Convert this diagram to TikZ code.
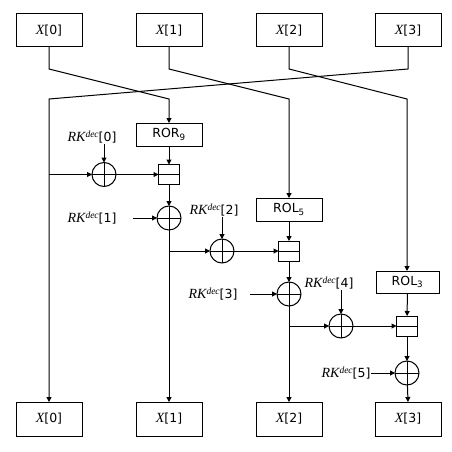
\documentclass[tikz,border=0pt]{standalone}
\usepackage{fontspec}
\setmainfont{DejaVu Sans}
\newfontfamily\tnr{Liberation Serif}
\usetikzlibrary{arrows.meta}
\newcommand\vx{{\tnr\itshape\fontsize{14}{14}\selectfont X}}
\newcommand\rkd[1]{{\tnr\itshape\fontsize{14}{14}\selectfont RK}\raisebox{3.5pt}{\tnr\itshape\fontsize{9.5}{10}\selectfont dec}[#1]}
\begin{document}
\begin{tikzpicture}[x=1pt,y=-1pt,line width=1pt,
  every node/.style={font=\fontsize{12.5}{14}\selectfont},
  arr/.style={-{Triangle[length=5pt,width=5pt]}},
  xbox/.style={draw,minimum width=66pt,minimum height=33pt,inner sep=0pt,outer sep=0pt},
  rbox/.style={draw,minimum width=66pt,minimum height=23pt,inner sep=0pt,outer sep=0pt},
  xorn/.style={draw,circle,minimum size=24pt,inner sep=0pt,outer sep=0pt,
    path picture={\draw (path picture bounding box.north) -- (path picture bounding box.south)
      (path picture bounding box.west) -- (path picture bounding box.east);}},
  addn/.style={draw,minimum width=21pt,minimum height=20pt,inner sep=0pt,outer sep=0pt,
    path picture={\draw (path picture bounding box.west) -- (path picture bounding box.east);}},
  lbl/.style={inner sep=0pt}]
\useasboundingbox (0,0) rectangle (451,452);
% top boxes
\node[xbox] (x0t) at (49,30.5) {\vx[0]};
\node[xbox] (x1t) at (169,30.5) {\vx[1]};
\node[xbox] (x2t) at (289,30.5) {\vx[2]};
\node[xbox] (x3t) at (408,30.5) {\vx[3]};
% bottom boxes
\node[xbox,minimum height=34pt] (x0b) at (49,419) {\vx[0]};
\node[xbox,minimum height=34pt] (x1b) at (169,419) {\vx[1]};
\node[xbox,minimum height=34pt] (x2b) at (289,419) {\vx[2]};
\node[xbox,minimum height=34pt] (x3b) at (408,419) {\vx[3]};
% rotation boxes
\node[rbox] (ror) at (169,134.5) {ROR\textsubscript{9}};
\node[rbox] (rol5) at (289,209.5) {ROL\textsubscript{5}};
\node[rbox,minimum width=63pt,minimum height=22pt] (rol3) at (407.5,282) {ROL\textsubscript{3}};
% adders
\node[addn] (add1) at (169,174.5) {};
\node[addn] (add2) at (289,251) {};
\node[addn] (add3) at (407,326) {};
% xors
\node[xorn] (xor0) at (104,174.5) {};
\node[xorn] (xor1) at (169,218) {};
\node[xorn] (xor2) at (222,251) {};
\node[xorn] (xor3) at (289,294) {};
\node[xorn] (xor4) at (341,326) {};
\node[xorn] (xor5) at (407,373) {};
% labels
\node[lbl] (rk0) at (92,137) {\rkd{0}};
\node[lbl] (rk1) at (92,218) {\rkd{1}};
\node[lbl] (rk2) at (214,210) {\rkd{2}};
\node[lbl] (rk3) at (213,294) {\rkd{3}};
\node[lbl] (rk4) at (329,283) {\rkd{4}};
\node[lbl] (rk5) at (346,373) {\rkd{5}};
% crossing points
\coordinate (a0) at (49,69);  \coordinate (b0) at (169,99);
\coordinate (a1) at (169,69); \coordinate (b1) at (289,99);
\coordinate (a2) at (289,69); \coordinate (b2) at (407,99);
\coordinate (a3) at (408,69); \coordinate (b3) at (49,99);
\coordinate (br0) at (49,174.5);
\coordinate (br1) at (169,251);
\coordinate (br2) at (289,326);
\draw[arr] (x0t.south) -- (a0) -- (b0) -- (ror.north);
\draw[arr] (x1t.south) -- (a1) -- (b1) -- (rol5.north);
\draw[arr] (x2t.south) -- (a2) -- (b2) -- (b2 |- rol3.north);
\draw[arr] (x3t.south) -- (a3) -- (b3) -- (x0b.north);
% round 1
\draw[arr] (xor0 |- rk0.south) ++(0,1) -- (xor0);
\draw[arr] (br0) -- (xor0);
\draw[arr] (xor0) -- (add1);
\draw[arr] (ror) -- (add1);
\draw[arr] (add1) -- (xor1);
\draw[arr] ([xshift=16pt]rk1.east) -- (xor1);
\draw[arr] (xor1) -- (x1b.north);
% round 2
\draw[arr] (xor2 |- rk2.south) ++(0,1) -- (xor2);
\draw[arr] (br1) -- (xor2);
\draw[arr] (xor2) -- (add2);
\draw[arr] (rol5) -- (add2);
\draw[arr] (add2) -- (xor3);
\draw[arr] ([xshift=12pt]rk3.east) -- (xor3);
\draw[arr] (xor3) -- (x2b.north);
% round 3
\draw[arr] (xor4 |- rk4.south) ++(0,1) -- (xor4);
\draw[arr] (br2) -- (xor4);
\draw[arr] (xor4) -- (add3);
\draw[arr] (rol3) -- (add3);
\draw[arr] (add3) -- (xor5);
\draw[arr] (rk5.east) -- (xor5);
\draw[arr] (xor5) -- (x3b.north);
\end{tikzpicture}
\end{document}
